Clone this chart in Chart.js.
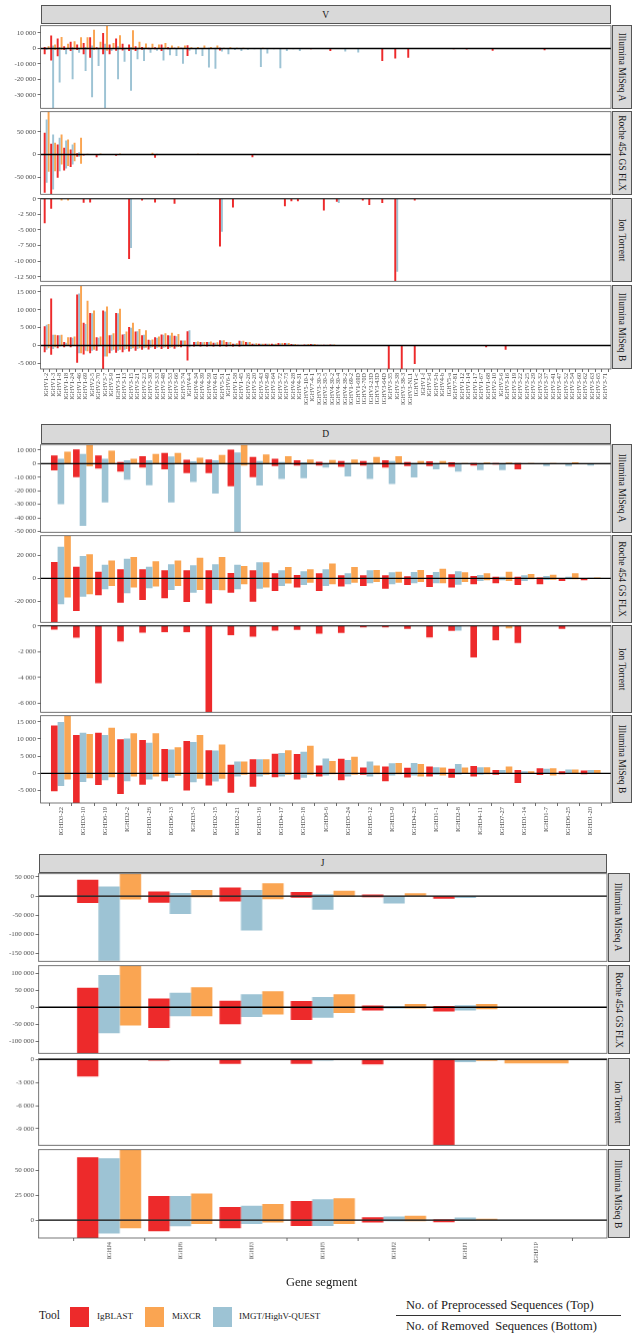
<!DOCTYPE html>
<html><head><meta charset="utf-8">
<script src="https://cdn.jsdelivr.net/npm/chart.js@4.4.1/dist/chart.umd.min.js"></script>
<style>
html,body{margin:0;padding:0;background:#fff}
#page{position:relative;width:633px;height:1339px;overflow:hidden;font-family:"Liberation Serif","DejaVu Serif",serif;color:#1a1a1a}
.strip{position:absolute;background:#d9d9d9;border:0.8px solid #555;box-sizing:border-box;display:flex;align-items:center;justify-content:center;font-size:9.5px;color:#1a1a1a}
.strip.r span{transform:rotate(90deg);white-space:nowrap}
canvas{position:absolute;left:0}
.txt{position:absolute;white-space:nowrap}
.key{position:absolute;width:19px;height:20px}
</style></head><body><div id="page"></div><script>
const K = 1000; // values below are in thousands of sequences
const FONT = '"Liberation Serif","DejaVu Serif",serif';
const COL = { ig:'#ED2A2B', mx:'#FAA552', imgt:'#9DC3D4' };
const PLATFORMS = ['Illumina MiSeq A', 'Roche 454 GS FLX', 'Ion Torrent', 'Illumina MiSeq B'];

// ---------- V ----------
const V_GENES = ['IGHV1-2','IGHV1-3','IGHV1-8','IGHV1-18','IGHV1-24','IGHV1-46','IGHV1-69','IGHV2-5','IGHV2-70','IGHV3-7',
 'IGHV3-9','IGHV3-11','IGHV3-13','IGHV3-15','IGHV3-21','IGHV3-23','IGHV3-30','IGHV3-33','IGHV3-48','IGHV3-53',
 'IGHV3-66','IGHV3-74','IGHV4-4','IGHV4-34','IGHV4-39','IGHV4-59','IGHV4-61','IGHV5-51','IGHV6-1','IGHV1-58',
 'IGHV1-45','IGHV2-26','IGHV3-20','IGHV3-43','IGHV3-49','IGHV3-64','IGHV3-72','IGHV3-73','IGHV4-28','IGHV4-31',
 'IGHV5-10-1','IGHV7-4-1','IGHV3-30-3','IGHV3-30-5','IGHV4-30-2','IGHV4-30-4','IGHV4-38-2','IGHV1-69-2','IGHV1-69D','IGHV2-70D',
 'IGHV3-23D','IGHV3-43D','IGHV3-64D','IGHV3-35','IGHV3-38','IGHV3-38-3','IGHV3-NL1','IGHV1-c','IGHV1-f','IGHV3-d',
 'IGHV3-h','IGHV4-b','IGHV5-a','IGHV7-81','IGHV1-12','IGHV1-14','IGHV1-17','IGHV1-67','IGHV1-68','IGHV2-10',
 'IGHV3-6','IGHV3-16','IGHV3-19','IGHV3-22','IGHV3-25','IGHV3-29','IGHV3-32','IGHV3-37','IGHV3-41','IGHV3-47',
 'IGHV3-52','IGHV3-54','IGHV3-60','IGHV3-62','IGHV3-63','IGHV3-65','IGHV3-71'];

// Illumina MiSeq A
const V_A_ig_top = [1.0,8.3,6.4,1.5,4.3,2.5,3.6,7.2,0.8,10.0, 2.5,6.4,3.0,2.5,1.5,1.0,0.5,0.8,2.5,0.8, 0.5,0.5,2.1,0.3,0.3,0.3,0.3,0.4,0.2,0.2,
 0.2,0.1,0.1,0.2,0.1,0.1,0.1,0.1,0.1,0.1, 0.1,0,0.1,0,0,0,0,0,0,0, 0,0,0,0,0,0,0,0,0,0, 0,0,0,0,0,0,0,0,0,0, 0,0,0,0,0,0,0,0,0,0, 0,0,0,0,0,0,0];
const V_A_ig_bot = [-3.8,-7.7,-5.0,-1.0,-1.7,-1.0,-3.8,-6.0,-0.5,-3.8, -3.8,-1.5,-1.3,-1.7,-1.7,-0.8,-0.5,-0.5,-1.7,-0.5, -0.3,-0.3,-4.9,-0.3,0,0,0,-1.3,0,0,
 0,0,0,-0.3,0,0,0,0,0,0, 0,-0.5,0,0,-1.7,0,0,0,0,0, 0,0,-8.1,0,-6.4,0,-6.0,0,0,0, 0,0,0,-0.5,0,-0.7,0,0,0,-1.5, 0,0,0,0,0,0,0,-1.2,0,0, 0,0,0,0,0,0,0];
const V_A_imgt_top = [0.5,2.0,1.0,0.3,1.0,0.5,1.0,2.0,0.5,3.0, 0.3,1.5,0.5,1.0,0.5,0.5,0.3,0.2,0.5,0.3, 0.3,0.5,0.2,0.2,0.2,0.5,0.5,0.1,0.2,0.1,
 0,0,0,0,0,0,0,0,0,0, 0,0,0,0,0,0,0,0,0,0, 0,0,0,0,0,0,0,0,0,0, 0,0,0,0,0,0,0,0,0,0, 0,0,0,0,0,0,0,0,0,0, 0,0,0,0,0,0,0];
const V_A_imgt_bot = [-1.0,-38.5,-21.9,-3.8,-19.8,-2.8,-14.5,-31.5,-11.3,-38.5, -1.7,-19.8,-8.5,-27.2,-7.0,-8.1,-2.8,-1.5,-7.7,-4.3, -4.9,-9.8,-1.5,-3.8,-4.9,-12.3,-13.0,-2.0,-3.8,-1.0,
 -1.7,-0.8,-0.5,-11.9,-3.2,-0.5,-12.8,-1.7,-0.5,-1.7, -0.3,0,-0.3,0,0,0,-2.0,0,-2.6,0, 0,0,0,0,0,0,0,0,0,0, 0,0,0,0,0,0,0,0,0,0, 0,0,0,0,0,0,0,0,0,0, 0,0,0,0,0,0,0];
const V_A_mx_top = [1.5,2.5,7.4,3.0,4.7,7.2,7.2,12.1,4.3,14.7, 3.6,8.5,0.4,11.7,4.3,3.2,3.0,2.5,3.6,1.9, 1.5,1.9,0.8,1.0,1.9,1.0,1.9,0.5,0.8,0.5,
 0.4,0.3,0.3,0.5,0.2,0.2,0.3,0.2,0.1,0.1, 0.1,0.1,0.1,0,0,0,0,0,0,0, 0,0,0,0,0,0,0,0,0,0, 0,0,0,0,0,0,0,0,0,0, 0,0,0,0,0,0,0,0,0,0, 0,0,0,0,0,0,0];
const V_A_mx_bot = [-0.5,-1.0,-0.8,-0.3,-0.5,-0.5,-0.5,-1.0,-0.3,-1.5, -0.3,-0.5,-0.2,-0.8,-0.3,-0.3,-0.2,-0.2,-0.3,-0.2, 0,0,0,0,0,0,0,0,0,0,
 0,0,0,0,0,0,0,0,0,0, 0,0,0,0,0,0,0,0,0,0, 0,0,0,0,0,0,0,0,0,0, 0,0,0,0,0,0,0,0,0,0, 0,0,0,0,0,0,0,0,0,0, 0,0,0,0,0,0,0];

// Roche 454 GS FLX
const V_B_ig_top = [47.8,23.5,22.1,14.7,11.0,3.0,1.0,0.5,0.5,0.3, 0.3,1.0,0.3,0.3,0.2,0.2,0.3,1.0,0.2,0.2, 0,0,0,0,0,0,0,0,0,0,
 0,0,0,0,0,0,0,0,0,0, 0,0,0,0,0,0,0,0,0,0, 0,0,0,0,0,0,0,0,0,0, 0,0,0,0,0,0,0,0,0,0, 0,0,0,0,0,0,0,0,0,0, 0,0,0,0,0,0,0];
const V_B_ig_bot = [-84.6,-88.0,-51.5,-35.3,-27.9,-5.0,-2.0,-1.0,-5.9,-0.5, -0.5,-3.0,-0.5,-0.5,-0.3,-0.3,-0.5,-7.4,-0.3,-0.3, -0.3,0,0,-1.0,0,0,0,0,0,0,
 0,0,-5.9,0,0,0,0,0,0,0, 0,0,0,0,0,0,0,0,0,0, 0,0,0,0,0,0,0,0,0,0, 0,0,0,0,0,0,0,0,0,0, 0,0,0,0,0,0,0,0,0,0, 0,0,0,0,0,0,0];
const V_B_imgt_top = [77.2,44.1,36.8,30.9,22.1,5.0,1.0,0.5,1.0,0.3, 0.3,1.0,0.3,0.3,0.3,0.2,0.5,1.5,0.2,0.2, 0.2,0,0,0.5,0,0,0,0,0,0,
 0,0,1.5,0,0,0,0,0,0,0, 0,0,0,0,0,0,0,0,0,0, 0,0,0,0,0,0,0,0,0,0, 0,0,0,0,0,0,0,0,0,0, 0,0,0,0,0,0,0,0,0,0, 0,0,0,0,0,0,0];
const V_B_imgt_bot = [-62.5,-77.2,-36.8,-30.9,-22.1,-5.0,-1.0,-0.5,-1.5,-0.3, -0.3,-1.0,-0.3,-0.3,-0.2,-0.2,-0.3,-1.5,-0.2,-0.2, 0,0,0,0,0,0,0,0,0,0,
 0,0,0,0,0,0,0,0,0,0, 0,0,0,0,0,0,0,0,0,0, 0,0,0,0,0,0,0,0,0,0, 0,0,0,0,0,0,0,0,0,0, 0,0,0,0,0,0,0,0,0,0, 0,0,0,0,0,0,0];
const V_B_mx_top = [94.0,25.7,44.1,33.1,25.7,36.8,1.5,1.0,2.0,0.5, 0.5,2.0,0.5,0.5,0.3,0.3,3.7,1.0,0.3,0.3, 0.3,0,0,1.5,0,0,0,0,0,0,
 0,0,0,0,0,0,0,0,0,0, 0,0,0,0,0,0,0,0,0,0, 0,0,0,0,0,0,0,0,0,0, 0,0,0,0,0,0,0,0,0,0, 0,0,0,0,0,0,0,0,0,0, 0,0,0,0,0,0,0];
const V_B_mx_bot = [-38.2,-36.8,-22.1,-25.7,-14.7,-20.6,-1.0,-0.5,-1.0,-0.3, -0.3,-1.0,-0.3,-0.3,-0.2,-0.2,-1.0,-0.5,-0.2,-0.2, 0,0,0,0,0,0,0,0,0,0,
 0,0,0,0,0,0,0,0,0,0, 0,0,0,0,0,0,0,0,0,0, 0,0,0,0,0,0,0,0,0,0, 0,0,0,0,0,0,0,0,0,0, 0,0,0,0,0,0,0,0,0,0, 0,0,0,0,0,0,0];

// Ion Torrent (removed only)
const V_C_zero = [0,0,0,0,0,0,0,0,0,0, 0,0,0,0,0,0,0,0,0,0, 0,0,0,0,0,0,0,0,0,0, 0,0,0,0,0,0,0,0,0,0, 0,0,0,0,0,0,0,0,0,0,
 0,0,0,0,0,0,0,0,0,0, 0,0,0,0,0,0,0,0,0,0, 0,0,0,0,0,0,0,0,0,0, 0,0,0,0,0,0,0];
const V_C_ig_bot = [-3.95,-1.6,0,0,0,0,-0.63,-0.6,0,0, 0,0,0,-9.65,0,-0.3,0,-0.6,0,0, -0.8,0,0,0,0,0,0,-7.65,0,-1.4,
 0,0,0,0,0,0,0,-1.2,-0.4,-0.4, 0,0,0,-1.9,0,-0.5,0,0,0,-0.3, -1.0,0,-0.7,0,-13.2,0,0,-0.3,0,0, 0,0,0,0,0,0,0,0,0,0, 0,0,0,0,0,0,0,0,0,0, 0,0,0,0,0,0,0];
const V_C_imgt_bot = [0,0,0,0,0,0,0,0,0,0, 0,0,0,-7.9,0,0,0,0,0,0, 0,0,0,0,0,0,0,-5.3,0,0,
 0,0,0,0,0,0,0,0,0,0, 0,0,0,0,0,-0.7,0,0,0,0, 0,0,0,0,-11.7,0,0,0,0,0, 0,0,0,0,0,0,0,0,0,0, 0,0,0,0,0,0,0,0,0,0, 0,0,0,0,0,0,0];
const V_C_mx_bot = [0,0,-0.3,-0.3,0,0,0,0,0,0, 0,0,0,0,0,0,0,0,0,0, 0,0,0,0,0,0,0,0,0,0,
 0,0,0,0,0,0,0,0,0,0, 0,0,0,0,0,0,0,0,0,0, 0,0,0,0,0,0,0,0,0,0, 0,0,0,0,0,0,0,0,0,0, 0,0,0,0,0,0,0,0,0,0, 0,0,0,0,0,0,0];

// Illumina MiSeq B
const V_D_ig_top = [5.4,13.2,2.9,1.0,2.3,14.3,6.4,9.1,2.3,9.8, 2.9,9.1,3.1,5.2,3.9,2.9,1.6,2.3,3.1,2.9, 2.7,1.4,4.0,1.0,1.0,1.0,0.8,1.5,1.0,0.5,
 1.3,1.0,0.5,0.5,0.5,0.5,0.7,0.7,0.4,0.2, 0.3,0.4,0.2,0.2,0.3,0,0,0,0,0, 0,0,0,0,0,0,0,0,0,0, 0,0,0,0,0,0,0,0,0,0, 0,0,0,0,0,0,0,0,0,0, 0,0,0,0,0,0,0];
const V_D_ig_bot = [-1.9,-2.6,-0.8,-0.5,-0.5,-4.8,-2.5,-2.2,-1.5,-6.6, -2.2,-2.0,-1.9,-1.7,-1.5,-1.2,-1.1,-1.0,-1.0,-1.0, -0.9,-0.5,-4.2,-0.3,-0.3,-0.3,-0.3,-0.3,-0.3,-0.3,
 -0.3,0,0,0,0,0,0,0,0,0, 0,0,0,0,0,0,0,0,0,0, 0,0,0,-6.6,0,-6.6,0,-5.2,0,0, 0,0,0,0,0,0,0,0,-0.5,0, 0,-1.2,0,0,0,0,0,0,0,0, 0,0,0,0,0,0,0];
const V_D_imgt_top = [5.8,3.0,2.9,0.8,2.2,14.6,6.0,9.0,2.2,9.5, 3.0,9.0,3.2,5.0,4.0,3.0,1.5,2.2,3.0,2.8, 2.6,1.4,4.3,1.0,0.9,1.0,0.8,1.4,0.9,0.5,
 1.2,0.9,0.5,0.5,0.5,0.4,0.6,0.6,0.4,0.2, 0.3,0.4,0.2,0.2,0.3,0,0,0,0,0, 0,0,0,0,0,0,0,0,0,0, 0,0,0,0,0,0,0,0,0,0, 0,0,0,0,0,0,0,0,0,0, 0,0,0,0,0,0,0];
const V_D_imgt_bot = [-1.2,-1.0,-0.3,0,0,-2.2,-1.5,-1.5,-0.3,-3.1, -1.5,-1.5,-1.2,-1.0,-1.0,-0.8,-0.6,-0.6,-0.6,-0.6, -0.5,0,-0.5,0,0,0,0,0,0,0,
 0,0,0,0,0,0,0,0,0,0, 0,0,0,0,0,0,0,0,0,0, 0,0,0,0,0,0,0,0,0,0, 0,0,0,0,0,0,0,0,0,0, 0,0,0,0,0,0,0,0,0,0, 0,0,0,0,0,0,0];
const V_D_mx_top = [6.0,3.0,3.0,2.3,2.5,16.7,12.5,9.8,2.5,10.9, 3.4,10.3,3.9,6.4,4.6,4.3,1.7,2.5,3.4,3.6, 3.2,1.4,0,1.1,1.0,1.1,0.9,1.5,1.0,0.6,
 1.3,1.0,0.6,0.5,0.5,0.5,0.7,0.7,0.4,0.2, 0.4,0.4,0.2,0.2,0.3,0,0,0,0,0, 0,0,0,0,0,0,0,0,0,0, 0,0,0,0,0,0,0,0,0,0, 0,0,0,0,0,0,0,0,0,0, 0,0,0,0,0,0,0];
const V_D_mx_bot = [-0.8,-0.5,0,0,0,-2.2,-1.6,-1.2,0,-3.1, -1.2,-1.2,-1.0,-0.8,-0.8,-0.6,-0.5,-0.5,-0.5,-0.5, -0.4,0,0,0,0,0,0,0,0,0,
 0,0,0,0,0,0,0,0,0,0, 0,0,0,0,0,0,0,0,0,0, 0,0,0,0,0,0,0,0,0,0, 0,0,0,0,0,0,0,0,0,0, 0,0,0,0,0,0,0,0,0,0, 0,0,0,0,0,0,0];

// ---------- D ----------
const D_GENES = ['IGHD3-22','IGHD3-10','IGHD6-19','IGHD2-2','IGHD1-26','IGHD6-13','IGHD3-3','IGHD2-15','IGHD2-21','IGHD3-16',
 'IGHD4-17','IGHD5-18','IGHD6-6','IGHD5-24','IGHD5-12','IGHD3-9','IGHD4-23','IGHD1-1','IGHD2-8','IGHD4-11',
 'IGHD7-27','IGHD1-14','IGHD1-7','IGHD6-25','IGHD1-20'];
const D_A_ig_top  = [6.0,10.5,6.0,1.2,5.5,7.9,2.9,3.1,10.2,4.8, 3.6,2.4,1.4,1.9,1.9,2.4,1.2,1.7,1.0,0.5, 0.5,0.5,0.2,0.3,0.1];
const D_A_ig_bot  = [-5.0,-10.0,-3.6,-6.0,-2.9,-4.3,-7.1,-7.1,-16.7,-10.0, -1.9,-1.4,-1.4,-2.4,-1.4,-2.9,-1.9,-1.9,-2.4,-1.4, -0.7,-4.3,-0.3,-0.5,0];
const D_A_imgt_top= [3.6,7.1,3.6,2.4,2.4,5.2,1.7,2.4,8.3,1.9, 1.2,1.0,0,0.5,0.5,1.9,0.5,0.3,0.2,0.2, 0.2,0.1,0.1,0.1,0.1];
const D_A_imgt_bot= [-30,-46,-28.6,-11.9,-16,-28.6,-13.6,-22.1,-50.5,-16.2, -11.4,-10.7,-2.9,-9.5,-11.4,-15,-10.2,-4.3,-6,-4.8, -4.8,-0.5,-1.9,-1.9,-1.4];
const D_A_mx_top  = [8.8,13.6,9.5,3.6,7.1,7.9,4.3,6.4,13.8,6.7, 5.5,3.1,2.6,3.1,4.8,5.5,1.9,1.9,0.5,0.7, 0.7,0.5,0.5,1.0,0];
const D_A_mx_bot  = [-0.5,-2.0,-0.5,-0.5,-0.3,-0.5,-0.3,-0.3,-1.5,-0.3, -0.2,-0.2,-0.2,-0.2,-0.2,-0.2,-0.1,-0.1,-0.1,0, 0,0,0,0,0];

const D_B_ig_top  = [14.2,10.1,5.8,7.8,7.8,7.0,7.0,7.0,4.6,7.0, 4.3,2.9,4.3,2.6,2.6,2.6,1.7,2.9,3.5,2.0, 1.4,1.4,0.6,0.3,0];
const D_B_ig_bot  = [-38.3,-28.4,-14.8,-21.2,-18.8,-17.4,-20.6,-22.0,-12.5,-20.3, -11.0,-8.1,-11.0,-7.2,-6.7,-9.0,-5.8,-7.5,-8.1,-5.2, -4.3,-5.8,-5.2,-2.3,-1.7];
const D_B_imgt_top= [27.5,19.4,11.9,17.1,10.1,12.2,11.3,12.2,11.9,13.9, 7.0,6.1,7.8,4.3,7.0,5.2,5.5,5.5,6.1,2.9, 1.4,2.6,2.0,1.4,0.5];
const D_B_imgt_bot= [-22.6,-16.0,-9.6,-13.0,-8.7,-10.1,-12.5,-10.1,-9.6,-9.0, -6.7,-5.8,-6.7,-5.2,-4.3,-5.2,-4.3,-4.3,-5.5,-2.3, -1.7,-2.3,-1.4,-0.9,-0.3];
const D_B_mx_top  = [37.1,20.9,15.4,18.6,14.8,15.4,18.0,18.6,10.7,13.9, 9.9,7.8,13.0,9.9,7.2,5.8,7.2,8.4,5.2,4.3, 5.8,3.8,3.2,4.3,0.6];
const D_B_mx_bot  = [-16.8,-13.9,-6.7,-8.1,-7.2,-6.7,-10.1,-10.4,-5.2,-8.1, -4.6,-3.8,-5.2,-3.8,-3.2,-3.8,-3.2,-4.3,-3.2,-1.7, -2.3,-0.9,-1.2,-0.9,-0.2];

const D_C_zero    = [0,0,0,0,0,0,0,0,0,0, 0,0,0,0,0,0,0,0,0,0, 0,0,0,0,0];
const D_C_ig_bot  = [-0.29,-0.93,-4.44,-1.22,-0.54,-0.49,-0.49,-6.69,-0.73,-0.85, -0.37,-0.32,-0.61,-0.56,-0.12,-0.12,-0.24,-0.9,-0.39,-2.44, -1.12,-1.34,0,-0.24,0];
const D_C_imgt_bot= [0,0,0,0,0,0,0,0,0,0, 0,0,0,0,0,0,0,0,-0.37,0, 0,0,0,0,0];
const D_C_mx_bot  = [0,0,0,0,0,0,0,0,0,0, 0,0,0,0,0,0,0,0,0,0, -0.2,0,0,0,0];

const D_D_ig_top  = [13.9,11.1,11.8,9.9,9.7,7.1,9.4,6.7,2.5,4.1, 5.7,5.6,2.3,4.2,1.7,2.0,1.6,2.0,1.3,2.1, 1.0,1.0,1.5,0.6,0.8];
const D_D_ig_bot  = [-5.2,-8.6,-3.4,-6.0,-3.3,-2.3,-5.0,-3.5,-5.6,-3.9, -1.1,-1.8,-0.9,-2.0,-0.4,-2.3,-1.2,-0.9,-1.3,-0.9, -0.4,-2.8,-0.5,-0.3,-0.3];
const D_D_imgt_top= [14.9,11.8,11.1,10.1,8.9,6.9,9.1,6.6,3.4,4.1, 5.9,6.3,4.3,3.9,3.4,2.9,3.0,1.8,2.7,1.8, 1.0,0.6,1.3,1.1,1.0];
const D_D_imgt_bot= [-3.7,-2.5,-2.0,-2.3,-1.8,-1.3,-2.6,-2.4,-0.9,-0.9, -0.9,-1.3,-0.6,-0.9,-0.9,-0.6,-0.6,-0.4,-0.4,-0.4, -0.2,-0.2,-0.2,-0.2,-0.2];
const D_D_mx_top  = [16.7,11.4,13.2,11.6,11.6,7.6,11.1,8.4,3.4,4.1, 6.7,8.0,3.6,4.8,2.3,3.0,2.7,1.7,1.7,1.8, 2.0,0.6,1.5,1.1,1.0];
const D_D_mx_bot  = [-1.8,-1.4,-1.1,-0.9,-0.9,-0.7,-1.6,-1.6,-0.4,-0.4, -0.4,-0.4,-0.3,-0.4,-0.3,-0.3,-0.9,-0.6,-0.2,-0.3, -0.2,-0.2,-0.6,-0.2,-0.2];

// ---------- J ----------
const J_GENES = ['IGHJ4','IGHJ6','IGHJ3','IGHJ5','IGHJ2','IGHJ1','IGHJ1P'];
const J_A_ig_top  = [43, 11.7, 22.5, 10.8, 4.2, 0, 0];
const J_A_ig_bot  = [-18, -17.5, -14, -4.2, -3.3, -6.7, 0];
const J_A_imgt_top= [25, 8.3, 15.8, 5, 0.8, 0, 0];
const J_A_imgt_bot= [-169, -47, -89.6, -35.8, -19.2, -5, 0];
const J_A_mx_top  = [58, 15.8, 33.3, 14.2, 7.5, 0, 0];
const J_A_mx_bot  = [-9, -3.3, -8.3, -2.5, -0.8, 0, 0];

const J_B_ig_top  = [57.7, 26, 19.2, 18.3, 4.8, 3.8, 0];
const J_B_ig_bot  = [-135, -61.5, -50, -37.5, -9.6, -12.5, 0];
const J_B_imgt_top= [95.2, 42.3, 38.5, 29.8, 2.9, 5.8, 0];
const J_B_imgt_bot= [-76.9, -26.9, -28.8, -30.8, -3.8, -9.6, 0];
const J_B_mx_top  = [122, 58.7, 47.1, 38.5, 9.6, 9.6, 0];
const J_B_mx_bot  = [-53.8, -26.9, -21.2, -17.3, -3.8, -5.8, 0];

const J_C_ig_top  = [0, 0, 0, 0, 0, 0.09, null];
const J_C_ig_bot  = [-2.2, -0.15, -0.56, -0.56, -0.65, -11.1, null];
const J_C_imgt_top= [0, 0, 0, 0, 0, 0, null];
const J_C_imgt_bot= [-0.05, 0, -0.05, -0.13, 0, -0.35, null];
const J_C_mx_top  = [0, 0, 0, 0, 0, 0, 0];
const J_C_mx_bot  = [-0.05, 0, 0, 0, 0, -0.17, -0.5];

const J_D_ig_top  = [63, 24.3, 13.2, 19.1, 3.0, 1.0, 0];
const J_D_ig_bot  = [-17.8, -11.2, -8.2, -5.9, -2.3, -2.0, 0];
const J_D_imgt_top= [62, 24.3, 14.5, 21, 3.6, 2.6, 0];
const J_D_imgt_bot= [-13.5, -6.2, -3.9, -5.9, -1.0, -0.7, 0];
const J_D_mx_top  = [70.6, 26.6, 16.1, 22, 4.3, 1.3, 0];
const J_D_mx_bot  = [-8.2, -3.9, -2.3, -3.9, -1.0, -0.3, 0];

// y tick values per panel
const V_TICKS = [[10000,0,-10000,-20000,-30000],[50000,0,-50000],[0,-2500,-5000,-7500,-10000,-12500],[15000,10000,5000,0,-5000]];
const D_TICKS = [[10000,0,-10000,-20000,-30000,-40000,-50000],[20000,0,-20000],[0,-2000,-4000,-6000],[15000,10000,5000,0,-5000]];
const J_TICKS = [[50000,0,-50000,-100000,-150000],[100000,50000,0,-50000,-100000],[0,-3000,-6000,-9000],[50000,25000,0]];

// ---------- layout ----------
const page = document.getElementById('page');
const fmt = v => (v < 0 ? '-' : '') + String(Math.abs(v)).replace(/\B(?=(\d{3})+(?!\d))/g, ' ');

function div(cls, css, html){
  const d = document.createElement('div'); d.className = cls;
  Object.assign(d.style, css); d.innerHTML = html || ''; page.appendChild(d); return d;
}

const frame = {
  id: 'frame',
  afterDatasetsDraw(c){
    const { ctx, chartArea: a, scales: { y } } = c;
    const y0 = y.getPixelForValue(0);
    ctx.save();
    ctx.strokeStyle = '#000'; ctx.lineWidth = 1.3;
    ctx.beginPath(); ctx.moveTo(a.left, y0); ctx.lineTo(a.right, y0); ctx.stroke();
    ctx.strokeStyle = '#555'; ctx.lineWidth = 0.8;
    ctx.strokeRect(a.left, a.top, a.right - a.left, a.bottom - a.top);
    ctx.restore();
  }
};

function panel(o){
  const H = o.h + 5 + (o.last ? o.labH : 5), W = o.right + 3;
  const cv = document.createElement('canvas');
  cv.width = W; cv.height = H;
  Object.assign(cv.style, { top: (o.top - 5) + 'px', width: W + 'px', height: H + 'px' });
  page.appendChild(cv);
  const ds = [];
  [['ig','IgBLAST'], ['imgt','IMGT/HighV-QUEST'], ['mx','MiXCR']].forEach(([k, name]) => {
    const [t, b] = o.sets[k];
    ds.push({ label: name + ' (top)', stack: k, backgroundColor: COL[k], data: t.map((v, i) => ({ x: i, y: v == null ? null : v * K })) });
    ds.push({ label: name + ' (bottom)', stack: k, backgroundColor: COL[k], data: b.map((v, i) => ({ x: i, y: v == null ? null : v * K })) });
  });
  new Chart(cv, {
    type: 'bar',
    data: { datasets: ds },
    options: {
      responsive: false, animation: false, devicePixelRatio: 1,
      layout: { autoPadding: false, padding: { top: 5, bottom: o.last ? 0 : 5, left: 0, right: 3 } },
      plugins: { legend: { display: false }, tooltip: { enabled: false } },
      datasets: { bar: { categoryPercentage: 0.9, barPercentage: 1, skipNull: true, borderWidth: 0 } },
      scales: {
        x: {
          type: 'linear', min: -o.pad, max: o.labels.length - 1 + o.pad, offset: false, bounds: 'data',
          afterBuildTicks: s => { s.ticks = o.labels.map((_, i) => ({ value: i })); },
          afterFit: s => { s.height = o.last ? o.labH : 0; },
          grid: { display: o.last, drawOnChartArea: false, tickLength: 3, color: '#333', lineWidth: 0.7 },
          border: { display: false },
          ticks: { display: o.last, autoSkip: false, maxRotation: 90, minRotation: 90, padding: 1, color: '#4d4d4d',
                   font: { family: FONT, size: o.labFont }, callback: v => o.labels[v] }
        },
        y: {
          type: 'linear', stacked: true, min: o.min, max: o.max, bounds: 'data',
          afterBuildTicks: s => { s.ticks = o.ticks.map(v => ({ value: v })); },
          afterFit: s => { s.width = o.left; },
          grid: { drawOnChartArea: false, tickLength: 3, color: '#333', lineWidth: 0.7 },
          border: { display: false },
          ticks: { padding: 1.5, color: '#4d4d4d', font: { family: FONT, size: 7 }, callback: v => fmt(v) }
        }
      }
    },
    plugins: [frame]
  });
  div('strip r', { left: (o.right + 1) + 'px', top: o.top + 'px', width: o.stripW + 'px', height: o.h + 'px' }, '<span>' + o.name + '</span>');
}

function section(s){
  div('strip', { left: s.left + 'px', top: s.stripTop + 'px', width: (s.right - s.left) + 'px', height: s.stripH + 'px' }, s.title);
  s.panels.forEach((p, k) => panel({
    name: PLATFORMS[k], top: p[0], h: p[1], min: p[2], max: p[3], ticks: s.ticks[k], sets: s.sets[k],
    left: s.left, right: s.right, pad: s.pad, labels: s.labels, last: k === 3, labH: s.labH, labFont: s.labFont, stripW: s.stripW
  }));
}

section({ title: 'V', left: 40.6, right: 611, stripTop: 5, stripH: 19, pad: 0.93, labels: V_GENES, labH: 50, labFont: 6.2, stripW: 20, ticks: V_TICKS,
  panels: [[24.5, 84, -38600, 14700], [110.5, 84, -88000, 94600], [198, 84, -13240, 0], [285, 84, -6580, 16750]],
  sets: [
    { ig: [V_A_ig_top, V_A_ig_bot], imgt: [V_A_imgt_top, V_A_imgt_bot], mx: [V_A_mx_top, V_A_mx_bot] },
    { ig: [V_B_ig_top, V_B_ig_bot], imgt: [V_B_imgt_top, V_B_imgt_bot], mx: [V_B_mx_top, V_B_mx_bot] },
    { ig: [V_C_zero, V_C_ig_bot], imgt: [V_C_zero, V_C_imgt_bot], mx: [V_C_zero, V_C_mx_bot] },
    { ig: [V_D_ig_top, V_D_ig_bot], imgt: [V_D_imgt_top, V_D_imgt_bot], mx: [V_D_mx_top, V_D_mx_bot] }
  ] });

section({ title: 'D', left: 40.6, right: 611, stripTop: 424, stripH: 19.5, pad: 0.92, labels: D_GENES, labH: 41, labFont: 6.5, stripW: 20, ticks: D_TICKS,
  panels: [[444, 88.5, -50600, 13840], [534.5, 88, -38300, 37100], [625, 87.5, -6690, 0], [715, 88.3, -8610, 16730]],
  sets: [
    { ig: [D_A_ig_top, D_A_ig_bot], imgt: [D_A_imgt_top, D_A_imgt_bot], mx: [D_A_mx_top, D_A_mx_bot] },
    { ig: [D_B_ig_top, D_B_ig_bot], imgt: [D_B_imgt_top, D_B_imgt_bot], mx: [D_B_mx_top, D_B_mx_bot] },
    { ig: [D_C_zero, D_C_ig_bot], imgt: [D_C_zero, D_C_imgt_bot], mx: [D_C_zero, D_C_mx_bot] },
    { ig: [D_D_ig_top, D_D_ig_bot], imgt: [D_D_imgt_top, D_D_imgt_bot], mx: [D_D_mx_top, D_D_mx_bot] }
  ] });

section({ title: 'J', left: 38.5, right: 606.7, stripTop: 854, stripH: 18.5, pad: 0.99, labels: J_GENES, labH: 40, labFont: 6.5, stripW: 22, ticks: J_TICKS,
  panels: [[872.7, 89.6, -170400, 58500], [965, 89, -135700, 122300], [1058.3, 87.7, -11140, 90], [1149.3, 89, -17900, 70600]],
  sets: [
    { ig: [J_A_ig_top, J_A_ig_bot], imgt: [J_A_imgt_top, J_A_imgt_bot], mx: [J_A_mx_top, J_A_mx_bot] },
    { ig: [J_B_ig_top, J_B_ig_bot], imgt: [J_B_imgt_top, J_B_imgt_bot], mx: [J_B_mx_top, J_B_mx_bot] },
    { ig: [J_C_ig_top, J_C_ig_bot], imgt: [J_C_imgt_top, J_C_imgt_bot], mx: [J_C_mx_top, J_C_mx_bot] },
    { ig: [J_D_ig_top, J_D_ig_bot], imgt: [J_D_imgt_top, J_D_imgt_bot], mx: [J_D_mx_top, J_D_mx_bot] }
  ] });

// axis title and legend
div('txt', { left: '286px', top: '1275px', fontSize: '12.5px' }, 'Gene segment');
div('txt', { left: '39px', top: '1309px', fontSize: '11.5px' }, 'Tool');
div('key', { left: '70px', top: '1306.5px', background: COL.ig });
div('txt', { left: '97px', top: '1311px', fontSize: '9px' }, 'IgBLAST');
div('key', { left: '145px', top: '1306.5px', background: COL.mx });
div('txt', { left: '172px', top: '1311px', fontSize: '9px' }, 'MiXCR');
div('key', { left: '213px', top: '1306.5px', background: COL.imgt });
div('txt', { left: '239px', top: '1311px', fontSize: '9px' }, 'IMGT/HighV-QUEST');
div('txt', { left: '406px', top: '1298px', fontSize: '12.5px' }, 'No. of Preprocessed Sequences (Top)');
div('', { position: 'absolute', left: '396px', top: '1314.5px', width: '225px', height: '1px', background: '#333' });
div('txt', { left: '406px', top: '1319px', fontSize: '12.5px' }, 'No. of Removed&nbsp; Sequences (Bottom)');
</script></body></html>
